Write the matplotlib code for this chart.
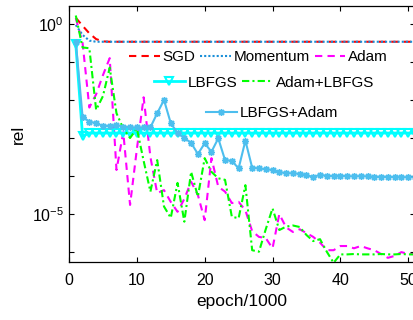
import matplotlib
matplotlib.use('Agg')
import matplotlib.pyplot as plt
import numpy as np
from matplotlib.ticker import FixedLocator, NullFormatter

plt.rcParams['font.family'] = ['Liberation Sans', 'DejaVu Sans']
plt.rcParams['mathtext.default'] = 'regular'
plt.rcParams['font.size'] = 11

# epoch / 1000
epochs = list(range(1, 52))

# log10(rel)
sgd_log = [0.16, -0.05, -0.25, -0.40, -0.46, -0.47, -0.47, -0.47, -0.47, -0.47,
           -0.47, -0.47, -0.47, -0.47, -0.47, -0.47, -0.47, -0.47, -0.47, -0.47,
           -0.47, -0.47, -0.47, -0.47, -0.47, -0.47, -0.47, -0.47, -0.47, -0.47,
           -0.47, -0.47, -0.47, -0.47, -0.47, -0.47, -0.47, -0.47, -0.47, -0.47,
           -0.47, -0.47, -0.47, -0.47, -0.47, -0.47, -0.47, -0.47, -0.47, -0.47, -0.47]
momentum_log = [-0.03, -0.29, -0.44, -0.47, -0.47, -0.47, -0.47, -0.47, -0.47, -0.47,
                -0.47, -0.47, -0.47, -0.47, -0.47, -0.47, -0.47, -0.47, -0.47, -0.47,
                -0.47, -0.47, -0.47, -0.47, -0.47, -0.47, -0.47, -0.47, -0.47, -0.47,
                -0.47, -0.47, -0.47, -0.47, -0.47, -0.47, -0.47, -0.47, -0.47, -0.47,
                -0.47, -0.47, -0.47, -0.47, -0.47, -0.47, -0.47, -0.47, -0.47, -0.47, -0.47]
adam_log = [0.15, -0.50, -2.20, -1.85, -1.35, -0.90, -3.84, -2.85, -4.76, -3.30,
            -1.93, -3.50, -4.45, -4.37, -4.68, -4.94, -4.60, -4.15, -4.50, -5.16,
            -3.53, -4.28, -4.41, -4.71, -4.68, -4.90, -5.45, -5.60, -5.63, -5.90,
            -5.00, -5.35, -5.47, -5.40, -5.50, -5.60, -5.75, -5.95, -5.95, -5.84,
            -5.84, -5.90, -5.84, -5.90, -5.95, -6.05, -6.15, -6.10, -6.00, -6.05, -6.05]
lbfgs_log = [-0.53, -2.95, -2.87, -2.87, -2.87, -2.87, -2.87, -2.87, -2.87, -2.87,
             -2.87, -2.87, -2.87, -2.87, -2.87, -2.87, -2.87, -2.87, -2.87, -2.87,
             -2.87, -2.87, -2.87, -2.87, -2.87, -2.87, -2.87, -2.87, -2.87, -2.87,
             -2.87, -2.87, -2.87, -2.87, -2.87, -2.87, -2.87, -2.87, -2.87, -2.87,
             -2.87, -2.87, -2.87, -2.87, -2.87, -2.87, -2.87, -2.87, -2.87, -2.87, -2.87]
adam_lbfgs_log = [0.22, -0.62, -0.64, -2.26, -1.90, -1.15, -2.35, -2.75, -3.00, -2.75,
                  -3.60, -4.41, -3.58, -4.80, -5.10, -4.18, -5.20, -3.89, -4.54, -3.53,
                  -3.89, -4.06, -4.10, -5.07, -5.11, -4.24, -5.95, -5.99, -5.40, -4.85,
                  -5.42, -5.33, -5.30, -5.34, -5.55, -5.71, -5.66, -5.99, -6.28, -6.06,
                  -6.06, -6.05, -6.06, -6.06, -6.06, -6.05, -6.06, -6.06, -6.05, -6.06, -6.06]
lbfgs_adam_log = [-0.47, -2.44, -2.57, -2.61, -2.68, -2.68, -2.66, -2.70, -2.72, -2.72,
                  -2.72, -2.72, -2.35, -2.00, -2.61, -2.87, -3.00, -3.13, -3.42, -3.14,
                  -3.36, -3.01, -3.58, -3.60, -3.80, -3.07, -3.78, -3.80, -3.82, -3.84,
                  -3.90, -3.92, -3.93, -3.94, -3.97, -4.03, -3.96, -4.00, -4.00, -4.00,
                  -4.00, -4.01, -4.00, -4.01, -4.02, -4.02, -4.02, -4.03, -4.03, -4.03, -4.03]

labels = ['SGD', 'Momentum', 'Adam', 'LBFGS', 'Adam+LBFGS', 'LBFGS+Adam']
xticks = [0, 10, 20, 30, 40, 50]

fig = plt.figure(figsize=(4.14, 3.2), dpi=100)
ax = fig.add_axes([69/414, 58/320, 346/414, 256/320])

def p(v):
    return 10.0 ** np.array(v)

l1, = ax.plot(epochs, p(sgd_log), color='#FF0000', ls=(0, (3.5, 2.5)), lw=1.5, label=labels[0])
l2, = ax.plot(epochs, p(momentum_log), color='#1A8FD8', ls=(0, (1, 1)), lw=1.5, label=labels[1])
l3, = ax.plot(epochs, p(adam_log), color='#FF00FF', ls=(0, (3.5, 2.5)), lw=1.5, label=labels[2])
l4, = ax.plot(epochs, p(lbfgs_log), color='#00FFFF', ls='-', lw=2.0, marker='v',
              ms=5.5, mfc='none', mew=1.5, label=labels[3])
l5, = ax.plot(epochs, p(adam_lbfgs_log), color='#00FF00', ls=(0, (3.5, 1.5, 1, 1.5)), lw=1.5, label=labels[4])
l6, = ax.plot(epochs, p(lbfgs_adam_log), color='#4DBEEE', ls='-', lw=1.5, marker=(8, 2, 0),
              ms=5, mew=1.0, label=labels[5])

ax.set_yscale('log')
ax.set_xlim(0, 51)
ax.set_ylim(10**-6.26, 10**0.47)
ax.yaxis.set_major_locator(FixedLocator([1e-5, 1e0]))
ax.yaxis.set_minor_locator(FixedLocator([1e-6, 1e-4, 1e-3, 1e-2, 1e-1]))
ax.yaxis.set_minor_formatter(NullFormatter())
ax.set_yticklabels(['$10^{-5}$', '$10^{0}$'])
ax.set_xticks(xticks)
ax.set_xticklabels([str(t) for t in xticks])
ax.tick_params(which='both', direction='in', top=True, right=True, length=3.5, width=0.8,
               labelsize=11.5)
ax.tick_params(axis='x', pad=8)
for s in ax.spines.values():
    s.set_linewidth(0.9)

ax.set_xlabel('epoch/1000', fontsize=12.5)
ax.set_ylabel('rel', fontsize=12.5)
ax.yaxis.set_label_coords(-0.125, 0.5)

kw = dict(frameon=False, handlelength=2.0, handletextpad=0.2, columnspacing=0.3,
          borderpad=0.0, fontsize=11, loc='center')
leg1 = ax.legend([l1, l2, l3], labels[0:3], ncol=3, bbox_to_anchor=(0.548, 0.80), **kw)
ax.add_artist(leg1)
leg2 = ax.legend([l4, l5], labels[3:5], ncol=2, bbox_to_anchor=(0.564, 0.70), **kw)
ax.add_artist(leg2)
leg3 = ax.legend([l6], labels[5:6], ncol=1, bbox_to_anchor=(0.587, 0.582), **kw)

fig.savefig('out.png', dpi=100)
